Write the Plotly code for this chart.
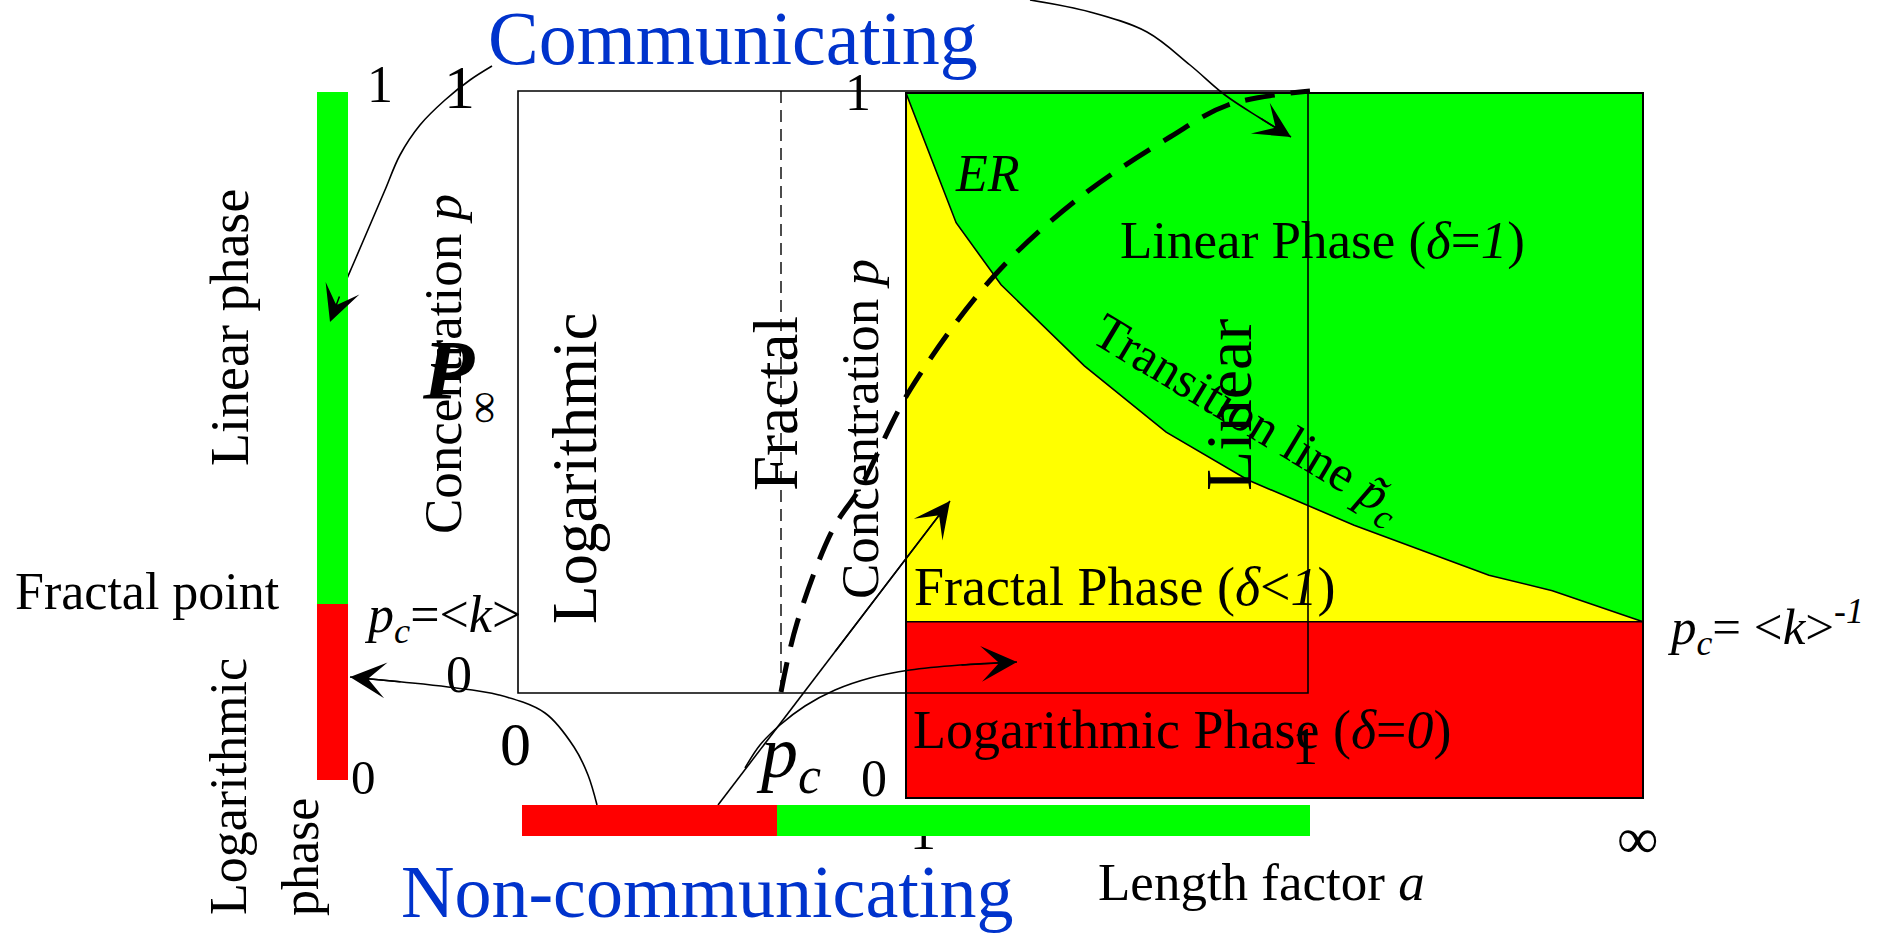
import plotly.graph_objects as go

W, H = 1881, 934
FONT = "Liberation Serif"
GREEN, YELLOW, RED, BLUE = "#00FF00", "#FFFF00", "#FF0000", "#0033CC"

# ---- phase diagram: normalised length factor a (1 -> infinity) vs concentration p
P_C = 0.25
a_transition = [0.0, 0.068, 0.129, 0.242, 0.353, 0.464, 0.608, 0.791, 0.877, 1.0]
p_transition = [1.0, 0.816, 0.728, 0.613, 0.519, 0.451, 0.387, 0.316, 0.294, 0.25]

# canvas frame (pixels) in which the phase square sits
SQ_LEFT, SQ_RIGHT, SQ_TOP, SQ_BOTTOM = 906, 1643, 93, 798

# ---- schematic layer (canvas pixel frame)
box_x = [518, 1308]
box_y = [91, 693]
divider_x = 781

er_x = [781, 797, 833, 860, 910, 994, 1079, 1170, 1228, 1310]
er_y = [692, 623, 529, 488, 390, 276, 198, 137, 105, 91]

arrow_paths = {
    "to_linear_bar": ([492, 470, 445, 420, 400, 385, 370, 355, 340, 330],
                      [66, 80, 100, 125, 155, 190, 225, 260, 295, 322]),
    "to_linear_region": ([1030, 1090, 1147, 1190, 1225, 1260, 1291],
                         [0, 12, 32, 65, 95, 118, 137]),
    "to_log_bar": ([597, 588, 574, 545, 499, 448, 402, 350],
                   [805, 775, 747, 713, 695, 687, 682, 677]),
    "to_fractal_region": ([718, 834, 950], [805, 653, 501]),
    "to_log_region": ([745, 760, 780, 805, 835, 870, 910, 960, 1017],
                      [768, 745, 725, 706, 690, 678, 670, 665, 662]),
}

# concentration bars: (x0, x1, y0, y1, colour)
vertical_bar = [(317, 348, 92, 604, GREEN), (317, 348, 604, 780, RED)]
horizontal_bar = [(522, 777, 805, 836, RED), (777, 1310, 805, 836, GREEN)]

# labels: text, x, y, font size, angle, colour
labels = [
    ("Communicating", 733, 38, 76, 0, BLUE),
    ("Non-communicating", 707, 892, 74, 0, BLUE),
    ("Linear phase", 230, 328, 54, -90, "black"),
    ("Logarithmic", 228, 787, 52, -90, "black"),
    ("phase", 300, 857, 52, -90, "black"),
    ("Fractal point", 147, 591, 52, 0, "black"),
    ("<i>p</i><sub><i>c</i></sub>=&lt;<i>k</i>&gt;", 442, 618, 52, 0, "black"),
    ("1", 380, 84, 52, 0, "black"),
    ("1", 459, 87, 62, 0, "black"),
    ("1", 858, 92, 52, 0, "black"),
    ("0", 459, 674, 52, 0, "black"),
    ("0", 515, 744, 62, 0, "black"),
    ("0", 363, 777, 49, 0, "black"),
    ("0", 874, 778, 52, 0, "black"),
    ("<i>p</i><sub><i>c</i></sub>", 788, 757, 74, 0, "black"),
    ("∞", 1637, 838, 58, 0, "black"),
    ("Length factor <i>a</i>", 1261, 882, 53, 0, "black"),
    ("<i>p</i><sub><i>c</i></sub>= &lt;<i>k</i>&gt;<sup>-<i>1</i></sup>", 1766, 627, 51, 0, "black"),
    ("<i>ER</i>", 987, 173, 52, 0, "black"),
    ("Linear Phase (<i>δ</i>=<i>1</i>)", 1322, 240, 53, 0, "black"),
    ("Transition line <i>p̃</i><sub><i>c</i></sub>", 1246, 420, 51, 31, "black"),
    ("Linear", 1228, 405, 66, -90, "black"),
    ("Fractal Phase (<i>δ</i>&lt;<i>1</i>)", 1124, 587, 54, 0, "black"),
    ("Logarithmic Phase (<i>δ</i>=<i>0</i>)", 1182, 730, 54, 0, "black"),
    ("1", 1305, 746, 52, 0, "black"),
    ("Logarithmic", 575, 469, 63, -90, "black"),
    ("Fractal", 776, 404, 63, -90, "black"),
    ("Concentration <i>p</i>", 443, 364, 53, -90, "black"),
    ("Concentration <i>p</i>", 860, 429, 53, -90, "black"),
    ("<b><i>P</i></b>", 448, 370, 84, 0, "black"),
    ("∞", 482, 408, 46, -90, "black"),
]

fig = go.Figure()

# phase regions
fig.add_trace(go.Scatter(x=[0, 1, 1, 0], y=[P_C, P_C, 1, 1], fill="toself",
                         fillcolor=GREEN, line=dict(width=0), mode="lines"))
fig.add_trace(go.Scatter(x=[0] + a_transition, y=[P_C] + p_transition, fill="toself",
                         fillcolor=YELLOW, line=dict(width=0), mode="lines"))
fig.add_trace(go.Scatter(x=[0, 1, 1, 0], y=[0, 0, P_C, P_C], fill="toself",
                         fillcolor=RED, line=dict(width=0), mode="lines"))
fig.add_trace(go.Scatter(x=a_transition, y=p_transition, mode="lines",
                         line=dict(color="black", width=1.6)))
fig.add_trace(go.Scatter(x=[0, 1], y=[P_C, P_C], mode="lines",
                         line=dict(color="black", width=1.6)))

# tick label tucked under the bottom bar
fig.add_trace(go.Scatter(x=[923], y=[836], mode="text", text=["1"],
                         textfont=dict(size=52, family=FONT, color="black"),
                         xaxis="x2", yaxis="y2"))

# ER path
fig.add_trace(go.Scatter(x=er_x, y=er_y, mode="lines", line_shape="spline",
                         line=dict(color="black", width=5, dash="30px,16px"),
                         xaxis="x2", yaxis="y2"))

for name, (xs, ys) in arrow_paths.items():
    fig.add_trace(go.Scatter(x=xs, y=ys, mode="lines", line_shape="spline",
                             line=dict(color="black", width=1.6),
                             xaxis="x2", yaxis="y2", name=name))

shapes = []
for x0, x1, y0, y1, c in vertical_bar + horizontal_bar:
    shapes.append(dict(type="rect", xref="x2", yref="y2", x0=x0, x1=x1, y0=y0, y1=y1,
                       fillcolor=c, line=dict(width=0)))
shapes.append(dict(type="rect", xref="x", yref="y", x0=0, x1=1, y0=0, y1=1,
                   line=dict(color="black", width=2)))
shapes.append(dict(type="rect", xref="x2", yref="y2", x0=box_x[0], x1=box_x[1],
                   y0=box_y[0], y1=box_y[1], line=dict(color="black", width=1.6)))
shapes.append(dict(type="line", xref="x2", yref="y2", x0=divider_x, x1=divider_x,
                   y0=box_y[0], y1=box_y[1],
                   line=dict(color="black", width=1.4, dash="12px,7px")))

annotations = []
for text, x, y, size, angle, color in labels:
    annotations.append(dict(text=text, x=x, y=y, xref="x2", yref="y2", showarrow=False,
                            textangle=angle, xanchor="center", yanchor="middle",
                            font=dict(family=FONT, size=size, color=color)))
for name, (xs, ys) in arrow_paths.items():
    annotations.append(dict(text="", x=xs[-1], y=ys[-1], ax=xs[-2], ay=ys[-2],
                            xref="x2", yref="y2", axref="x2", ayref="y2",
                            showarrow=True, arrowhead=3, arrowsize=4,
                            arrowwidth=1.5, arrowcolor="black", standoff=0))

sx = SQ_RIGHT - SQ_LEFT
sy = SQ_BOTTOM - SQ_TOP
fig.update_layout(
    width=W, height=H, margin=dict(l=0, r=0, t=0, b=0),
    paper_bgcolor="white", plot_bgcolor="white", showlegend=False, hovermode=False,
    xaxis=dict(range=[-SQ_LEFT / sx, (W - SQ_LEFT) / sx], visible=False, domain=[0, 1]),
    yaxis=dict(range=[(SQ_BOTTOM - H) / sy, SQ_BOTTOM / sy], visible=False, domain=[0, 1]),
    xaxis2=dict(range=[0, W], overlaying="x", visible=False),
    yaxis2=dict(range=[H, 0], overlaying="y", visible=False),
    shapes=shapes, annotations=annotations,
)

fig.write_html("out.html", config={"displayModeBar": False},
               post_script="document.body.style.margin='0';")
